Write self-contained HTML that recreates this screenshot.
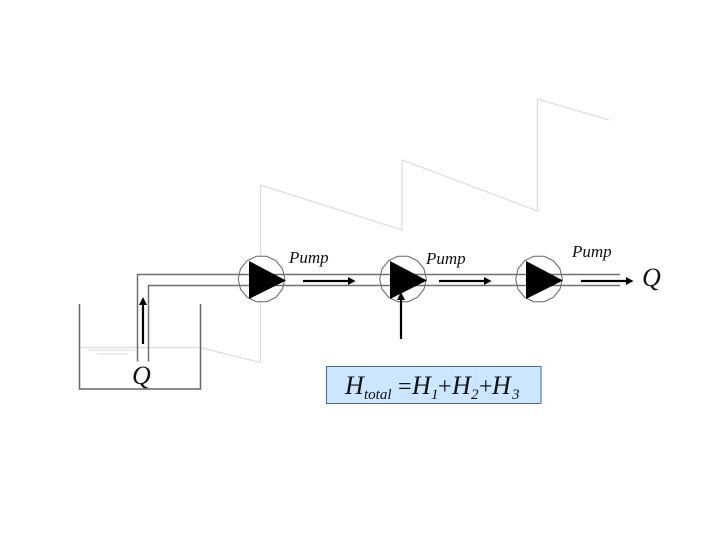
<!DOCTYPE html>
<html>
<head>
<meta charset="utf-8">
<style>
html,body{margin:0;padding:0;background:#fff}
svg{display:block}
text{font-family:"Liberation Serif",serif;font-style:italic;fill:#111}
text.op{font-style:normal}
</style>
</head>
<body>
<svg width="720" height="540" viewBox="0 0 720 540" xmlns="http://www.w3.org/2000/svg">
<rect width="720" height="540" fill="#fff"/>
<polyline points="79,347.500 200,347.500 260.500,362.500 260.500,185 402,230 402,160 537.500,211 537.500,99 609,120" fill="none" stroke="#dcdcdc" stroke-width="1.200"/>
<path d="M88,350H135M97,354H128" stroke="#dddddd" stroke-width="1" fill="none"/>
<path d="M79.500,304V389H200.500V304" fill="none" stroke="#666" stroke-width="1.500"/>
<g fill="#fff" stroke="#666" stroke-width="1">
<polygon transform="translate(261.500,279)" points="23.300,0 21,10.100 14.500,18.200 5.200,22.700 -5.200,22.700 -14.500,18.200 -21,10.100 -23.300,0 -21,-10.100 -14.500,-18.200 -5.200,-22.700 5.200,-22.700 14.500,-18.200 21,-10.100"/>
<polygon transform="translate(403,279)" points="23.300,0 21,10.100 14.500,18.200 5.200,22.700 -5.200,22.700 -14.500,18.200 -21,10.100 -23.300,0 -21,-10.100 -14.500,-18.200 -5.200,-22.700 5.200,-22.700 14.500,-18.200 21,-10.100"/>
<polygon transform="translate(539,279)" points="23.300,0 21,10.100 14.500,18.200 5.200,22.700 -5.200,22.700 -14.500,18.200 -21,10.100 -23.300,0 -21,-10.100 -14.500,-18.200 -5.200,-22.700 5.200,-22.700 14.500,-18.200 21,-10.100"/>
</g>
<path d="M137.500,361.500V274.500H620M148.500,361.500V285.500H620" fill="none" stroke="#707070" stroke-width="1.500"/>
<g fill="#000">
<polygon points="249,261 286,280.500 249,299"/>
<polygon points="390,261 427,280.500 390,299"/>
<polygon points="526,261 563,280.500 526,299"/>
</g>
<g stroke="#000" stroke-width="2.200" fill="none">
<path d="M143,344V303M401,339V298M303,281H349M439,281H485M581,281H627"/>
</g>
<g fill="#000">
<polygon points="143,297 139,305 147,305"/>
<polygon points="401,292 397,300 405,300"/>
<polygon points="355.500,281 348,277 348,285"/>
<polygon points="491.500,281 484,277 484,285"/>
<polygon points="633.500,281 626,277 626,285"/>
</g>
<text x="289" y="263" font-size="17">Pump</text>
<text x="426" y="264" font-size="17">Pump</text>
<text x="572" y="257" font-size="17">Pump</text>
<text x="132" y="384" font-size="26">Q</text>
<text x="642" y="286" font-size="26">Q</text>
<rect x="326.500" y="366.500" width="214.500" height="37" fill="#cce6ff" stroke="#4a6a8a" stroke-width="1"/>
<text x="345" y="394" font-size="26">H</text>
<text x="364" y="399" font-size="15">total</text>
<text class="op" x="398" y="394" font-size="24">=</text>
<text x="412" y="394" font-size="26">H</text>
<text x="431" y="399" font-size="15">1</text>
<text class="op" x="438" y="394" font-size="24">+</text>
<text x="452" y="394" font-size="26">H</text>
<text x="471" y="399" font-size="15">2</text>
<text class="op" x="479" y="394" font-size="24">+</text>
<text x="492" y="394" font-size="26">H</text>
<text x="512" y="399" font-size="15">3</text>
</svg>
</body>
</html>
